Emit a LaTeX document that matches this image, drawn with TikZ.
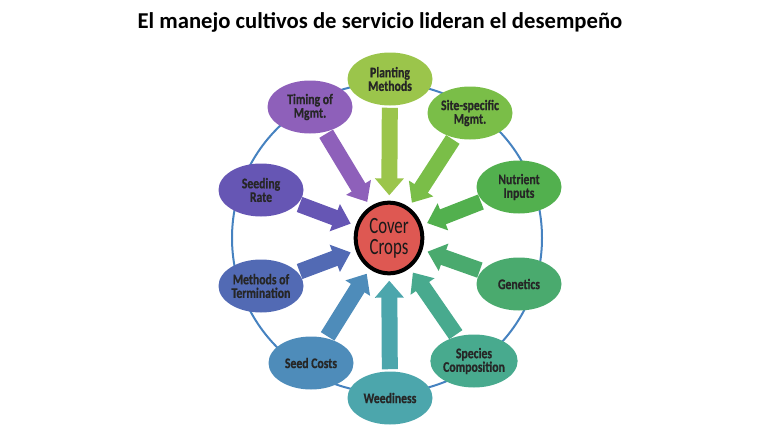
\documentclass[tikz,border=0pt]{standalone}
\usepackage{fontspec}
\setmainfont{Carlito}
\newfontfamily\slimfont[FakeStretch=0.8,FakeBold=0.6]{Carlito Bold}
\newfontfamily\crampfont[FakeStretch=0.72]{Carlito}
\usetikzlibrary{shapes.geometric,arrows.meta}
\definecolor{ringblue}{RGB}{70,130,192}
\definecolor{coverred}{RGB}{222,88,82}
\definecolor{cPlant}{RGB}{155,197,75}
\definecolor{cSite}{RGB}{122,190,72}
\definecolor{cNutr}{RGB}{82,176,78}
\definecolor{cGene}{RGB}{74,170,110}
\definecolor{cSpec}{RGB}{72,170,142}
\definecolor{cWeed}{RGB}{76,166,172}
\definecolor{cCost}{RGB}{78,140,186}
\definecolor{cTerm}{RGB}{82,106,180}
\definecolor{cRate}{RGB}{102,86,180}
\definecolor{cTime}{RGB}{142,96,186}
\tikzset{
  topic/.style={ellipse,minimum width=63.75pt,minimum height=39.75pt,inner sep=0pt,
    align=center,text=black!85,font=\slimfont\fontsize{11}{10.2}\selectfont},
  feed/.style={line width=12pt,-{Triangle[length=12.75pt,width=21pt]},
    shorten >=4pt,shorten <=1.5pt},
}
\begin{document}
\begin{tikzpicture}[x=0.75pt,y=-0.75pt]
  \useasboundingbox (0,0) rectangle (768,432);
  \node[font=\bfseries\fontsize{17}{20}\selectfont] (title) at (380,22)
    {El manejo cultivos de servicio lideran el desempeño};

  % ring behind the topics
  \draw[ringblue,line width=1.5pt] (387,238) circle (155);

  \node[ellipse,draw=black,line width=3pt,fill=coverred,minimum width=50pt,
    minimum height=53pt,inner sep=0pt,align=center,text=black!90,
    font=\crampfont\fontsize{17.5}{16}\selectfont] (cover) at (389,238) {Cover\\Crops};

  \node[topic,fill=cPlant] (plant) at (390,79) {Planting\\Methods};
  \node[topic,fill=cSite] (site) at (470,113) {Site-specific\\Mgmt.};
  \node[topic,fill=cNutr] (nutr) at (519,187) {Nutrient\\Inputs};
  \node[topic,fill=cGene] (gene) at (519,284) {Genetics};
  \node[topic,fill=cSpec] (spec) at (474,361) {Species\\Composition};
  \node[topic,fill=cWeed] (weed) at (390,398) {Weediness};
  \node[topic,fill=cCost] (cost) at (311,363) {Seed Costs};
  \node[topic,fill=cTerm] (term) at (261,286) {Methods of\\Termination};
  \node[topic,fill=cRate] (rate) at (261,190) {Seeding\\Rate};
  \node[topic,fill=cTime] (time) at (310,107) {Timing of\\Mgmt.};

  % block arrows into the centre
  \foreach \src/\col in {plant/cPlant,site/cSite,nutr/cNutr,gene/cGene,spec/cSpec,
      weed/cWeed,cost/cCost,term/cTerm,rate/cRate,time/cTime}
    \draw[feed,\col] (\src) -- (cover);
\end{tikzpicture}
\end{document}
